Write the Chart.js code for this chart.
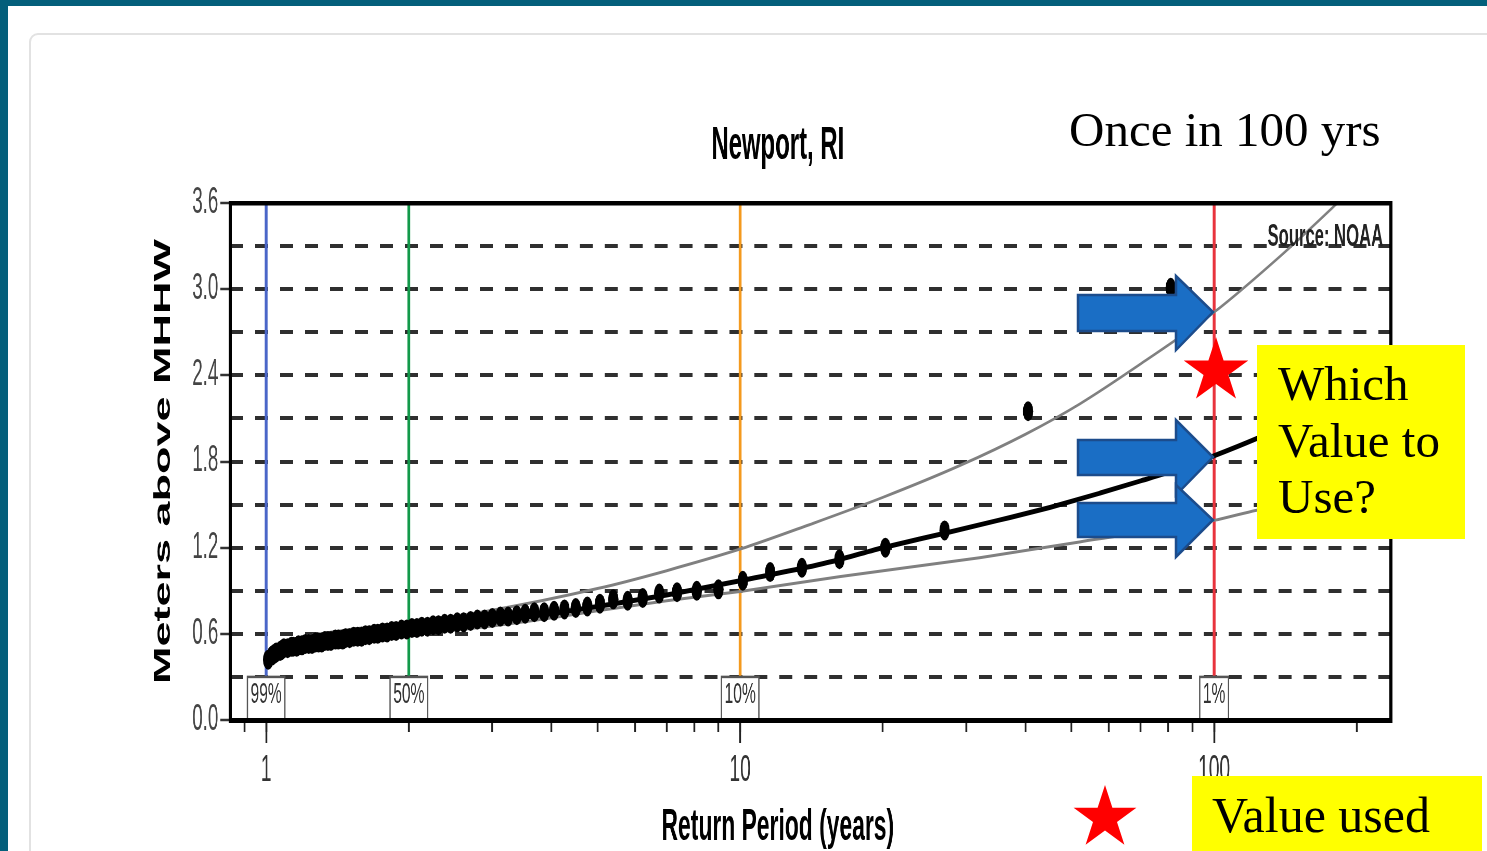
<!DOCTYPE html>
<html>
<head>
<meta charset="utf-8">
<script src="https://cdn.jsdelivr.net/npm/chart.js@4.4.1/dist/chart.umd.min.js"></script>
<style>
html,body{margin:0;padding:0;width:1487px;height:851px;overflow:hidden;background:#fff;}
#tealTop{position:absolute;left:0;top:0;width:1487px;height:6px;background:#045f7b;}
#tealLeft{position:absolute;left:0;top:0;width:8px;height:851px;background:#045f7b;}
#panel{position:absolute;left:29px;top:33px;width:1500px;height:860px;border:2px solid #e2e2e2;border-radius:9px;background:#fff;box-sizing:border-box;}
#chartBox{position:absolute;left:120px;top:95px;width:1300px;height:756px;}
#notes{position:absolute;left:0;top:0;}
</style>
</head>
<body>
<div id="tealTop"></div>
<div id="tealLeft"></div>
<div id="panel"></div>
<div id="chartBox"><canvas id="c" width="2500" height="756" style="width:1300px;height:756px;"></canvas></div>
<svg id="notes" width="1487" height="851" xmlns="http://www.w3.org/2000/svg">
  <text x="1069" y="146" font-family="'Liberation Serif', serif" font-size="49" fill="#000">Once in 100 yrs</text>
  <polygon points="1078,295 1176,295 1176,276 1213,312 1176,350 1176,331 1078,331" fill="#1a6ec5" stroke="#1c4c8c" stroke-width="2.5"/>
  <polygon points="1078,440 1176,440 1176,420 1213,457 1176,495 1176,475 1078,475" fill="#1a6ec5" stroke="#1c4c8c" stroke-width="2.5"/>
  <polygon points="1078,503 1176,503 1176,485 1213,520 1176,557 1176,537 1078,537" fill="#1a6ec5" stroke="#1c4c8c" stroke-width="2.5"/>
  <polygon id="star1" fill="#ff0000"/>
  <rect x="1257" y="345" width="208" height="194" fill="#ffff00"/>
  <text font-family="'Liberation Serif', serif" font-size="49" fill="#000">
    <tspan x="1278" y="400">Which</tspan>
    <tspan x="1278" y="457">Value to</tspan>
    <tspan x="1278" y="513">Use?</tspan>
  </text>
  <rect x="1192" y="776" width="290" height="75" fill="#ffff00"/>
  <text x="1212" y="832" font-family="'Liberation Serif', serif" font-size="50" fill="#000">Value used</text>
  <polygon id="star2" fill="#ff0000"/>
</svg>
<script>
// ---------------- data ----------------
const observedPeriods = [81, 40.5, 27, 20.25, 16.2, 13.5, 11.57, 10.13, 9.0, 8.1,
  7.36, 6.75, 6.23, 5.79, 5.4, 5.06, 4.76, 4.5, 4.26, 4.05,
  3.86, 3.68, 3.52, 3.38, 3.24, 3.12, 3.0, 2.89, 2.79, 2.7,
  2.61, 2.53, 2.45, 2.38, 2.31, 2.25, 2.19, 2.13, 2.08, 2.03,
  1.98, 1.93, 1.88, 1.84, 1.8, 1.76, 1.72, 1.69, 1.65, 1.62,
  1.59, 1.56, 1.53, 1.5, 1.47, 1.45, 1.42, 1.4, 1.37, 1.35,
  1.33, 1.31, 1.29, 1.27, 1.25, 1.23, 1.21, 1.19, 1.17, 1.16,
  1.14, 1.13, 1.11, 1.09, 1.08, 1.07, 1.05, 1.04, 1.03, 1.01];
const observedLevels = [3.01, 2.15, 1.32, 1.20, 1.12, 1.06, 1.03, 0.97, 0.91, 0.90,
  0.89, 0.88, 0.85, 0.83, 0.84, 0.81, 0.79, 0.78, 0.77, 0.76,
  0.75, 0.75, 0.74, 0.73, 0.72, 0.72, 0.71, 0.70, 0.70, 0.69,
  0.68, 0.68, 0.67, 0.67, 0.66, 0.66, 0.65, 0.65, 0.64, 0.64,
  0.63, 0.63, 0.62, 0.62, 0.61, 0.61, 0.60, 0.60, 0.59, 0.59,
  0.58, 0.58, 0.58, 0.57, 0.57, 0.56, 0.56, 0.56, 0.55, 0.55,
  0.55, 0.54, 0.54, 0.54, 0.53, 0.53, 0.53, 0.52, 0.52, 0.51,
  0.51, 0.51, 0.50, 0.50, 0.49, 0.48, 0.47, 0.46, 0.45, 0.42];

const fitPeriods = [1.0, 1.01, 1.03, 1.06, 1.1, 1.2, 1.35, 1.5, 1.75, 2, 2.5, 3, 4, 5, 7, 10, 15, 20, 27, 35, 45, 57.5, 70, 82, 100, 123, 160, 236];
const fitLevels  = [0.40, 0.44, 0.47, 0.495, 0.515, 0.54, 0.565, 0.585, 0.605, 0.625, 0.66, 0.69, 0.74, 0.79, 0.87, 0.97, 1.09, 1.20, 1.30, 1.39, 1.48, 1.58, 1.665, 1.735, 1.84, 1.96, 2.13, 2.38];

const upperPeriods = [1.0, 1.01, 1.03, 1.1, 1.2, 1.5, 2, 3, 5, 7, 10, 14, 20, 29, 40, 52, 70, 100, 140, 178, 210];
const upperLevels  = [0.40, 0.46, 0.50, 0.55, 0.58, 0.63, 0.68, 0.765, 0.915, 1.04, 1.19, 1.36, 1.55, 1.77, 1.99, 2.20, 2.48, 2.84, 3.25, 3.57, 3.80];

const lowerPeriods = [1.0, 1.01, 1.05, 1.1, 1.2, 1.5, 2, 3, 3.6, 5, 7, 10, 16.3, 32, 52, 100, 123, 236];
const lowerLevels  = [0.40, 0.43, 0.46, 0.48, 0.51, 0.55, 0.59, 0.655, 0.69, 0.76, 0.83, 0.895, 1.00, 1.13, 1.24, 1.39, 1.46, 1.63];

const markerPeriods = [1, 2, 10, 100];
const markerLabels  = ['99%', '50%', '10%', '1%'];
const markerBottom = 0.3;
const markerTop = 3.6;

const xTickValues = [0.9, 1, 2, 3, 4, 5, 6, 7, 8, 9, 10, 20, 30, 40, 50, 60, 70, 80, 90, 100, 200];
const xLabelValues = [1, 10, 100];
const xMin = 0.84, xMax = 236;
const yMin = 0, yMax = 3.6, yStep = 0.3, yLabelStep = 0.6;

const chartTitle = 'Newport, RI';
const xTitle = 'Return Period (years)';
const yTitle = 'Meters above MHHW';
const sourceNote = 'Source: NOAA';

// ---------------- styles ----------------
const markerColors = ['#4a66c8', '#12994a', '#f49a1e', '#e8333d'];
const FONT = '"Liberation Sans", Arial, sans-serif';

function starPoints(cx, cy, R) {
  const r = R * 0.382, pts = [];
  for (let k = 0; k < 10; k++) {
    const a = -Math.PI / 2 + k * Math.PI / 5;
    const rad = k % 2 ? r : R;
    pts.push((cx + rad * Math.cos(a)).toFixed(1) + ',' + (cy + rad * Math.sin(a)).toFixed(1));
  }
  return pts.join(' ');
}
document.getElementById('star1').setAttribute('points', starPoints(1216, 371, 34));
document.getElementById('star2').setAttribute('points', starPoints(1105, 818, 33));

const pair = (xs, ys) => xs.map((x, i) => ({x: x, y: ys[i]}));
const isLabelTick = v => Math.abs(Math.round(v / yLabelStep) * yLabelStep - v) < 1e-6;

const decorPlugin = {
  id: 'decor',
  afterDatasetsDraw(chart) {
    const ctx = chart.ctx, xs = chart.scales.x, ys = chart.scales.y;
    const area = chart.chartArea;
    ctx.save();
    ctx.font = '30px ' + FONT;
    ctx.textAlign = 'center';
    ctx.textBaseline = 'middle';
    markerPeriods.forEach((p, i) => {
      const cx = xs.getPixelForValue(p);
      const yTop = ys.getPixelForValue(markerBottom);
      const yBot = area.bottom;
      const w = ctx.measureText(markerLabels[i]).width + 12;
      ctx.fillStyle = '#fff';
      ctx.fillRect(cx - w / 2, yTop, w, yBot - yTop);
      ctx.strokeStyle = '#555';
      ctx.lineWidth = 2.5;
      ctx.strokeRect(cx - w / 2, yTop, w, yBot - yTop);
      ctx.fillStyle = '#333';
      ctx.fillText(markerLabels[i], cx, (yTop + yBot) / 2 - 4);
    });
    ctx.font = 'bold 32px ' + FONT;
    ctx.textAlign = 'right';
    ctx.textBaseline = 'alphabetic';
    ctx.fillStyle = '#222';
    ctx.fillText(sourceNote, area.right - 15, area.top + 43);
    ctx.restore();
  },
  afterDraw(chart) {
    const ctx = chart.ctx, a = chart.chartArea;
    ctx.save();
    ctx.fillStyle = '#000';
    ctx.fillRect(a.left - 3, a.top - 2, a.right - a.left + 6, 4.5);
    ctx.fillRect(a.left - 3, a.bottom - 2, a.right - a.left + 6, 5);
    ctx.fillRect(a.left - 3, a.top - 2, 6, a.bottom - a.top + 4);
    ctx.fillRect(a.right - 3, a.top - 2, 6, a.bottom - a.top + 4);
    ctx.textAlign = 'center';
    ctx.textBaseline = 'alphabetic';
    ctx.font = 'bold 46px ' + FONT;
    ctx.fillText(chartTitle, 1265, 64);
    ctx.font = 'bold 44px ' + FONT;
    ctx.fillText(xTitle, 1265, 745);
    ctx.restore();
  }
};

const datasets = [
  {label: 'Observed annual maxima', data: pair(observedPeriods, observedLevels), showLine: false,
   pointRadius: 10, pointBackgroundColor: '#000', pointBorderWidth: 0, xAxisID: 'x', yAxisID: 'y'},
  {label: 'Fit', data: pair(fitPeriods, fitLevels), showLine: true, pointRadius: 0,
   borderColor: '#000', borderWidth: 5, cubicInterpolationMode: 'monotone', xAxisID: 'x', yAxisID: 'y'},
  {label: 'Upper 95%', data: pair(upperPeriods, upperLevels), showLine: true, pointRadius: 0,
   borderColor: '#808080', borderWidth: 3, cubicInterpolationMode: 'monotone', xAxisID: 'x', yAxisID: 'y'},
  {label: 'Lower 95%', data: pair(lowerPeriods, lowerLevels), showLine: true, pointRadius: 0,
   borderColor: '#808080', borderWidth: 3, cubicInterpolationMode: 'monotone', xAxisID: 'x', yAxisID: 'y'}
].concat(markerPeriods.map((p, i) => ({
  label: markerLabels[i], data: [{x: p, y: markerBottom}, {x: p, y: markerTop}], showLine: true,
  pointRadius: 0, borderColor: markerColors[i], borderWidth: 5.5, xAxisID: 'x', yAxisID: 'y'
})));

const setTicks = s => { s.ticks = xTickValues.map(v => ({value: v})); };

new Chart(document.getElementById('c'), {
  type: 'scatter',
  data: {datasets: datasets},
  options: {
    responsive: false,
    devicePixelRatio: 1,
    animation: false,
    layout: {padding: {left: 0, right: 56, top: 108, bottom: 0}},
    plugins: {legend: {display: false}, tooltip: {enabled: false}, title: {display: false}},
    scales: {
      x: {
        type: 'logarithmic', position: 'bottom', weight: 1, min: xMin, max: xMax,
        afterBuildTicks: setTicks,
        afterFit: s => { s.height = 131; },
        grid: {display: true, drawOnChartArea: false, drawTicks: true, tickLength: 23, tickWidth: 3.5,
               tickColor: c => (c.tick && xLabelValues.includes(c.tick.value)) ? '#222' : 'rgba(0,0,0,0)'},
        border: {display: false},
        ticks: {autoSkip: false, maxRotation: 0, minRotation: 0, padding: 6, color: '#333',
                font: {family: FONT, size: 37},
                callback: v => xLabelValues.includes(v) ? String(v) : ''}
      },
      xm: {
        type: 'logarithmic', position: 'bottom', weight: 0, min: xMin, max: xMax,
        afterBuildTicks: setTicks,
        afterFit: s => { s.height = 0; },
        grid: {display: true, drawOnChartArea: false, drawTicks: true, tickLength: 12, tickWidth: 3.5, tickColor: '#222'},
        border: {display: false},
        ticks: {display: false}
      },
      y: {
        type: 'linear', position: 'left', min: yMin, max: yMax,
        afterFit: s => { s.width = 212; },
        grid: {color: c => (c.tick && (c.tick.value <= yMin + 1e-6 || c.tick.value >= yMax - 1e-6)) ? 'rgba(0,0,0,0)' : '#2f2f2f',
               lineWidth: 4, tickLength: 19, tickWidth: 2.5, tickBorderDash: [],
               tickColor: c => (c.tick && isLabelTick(c.tick.value)) ? '#333' : 'rgba(0,0,0,0)'},
        border: {display: false, dash: [25, 23]},
        ticks: {stepSize: yStep, autoSkip: false, padding: 4, color: '#444', font: {family: FONT, size: 36},
                callback: v => isLabelTick(v) ? v.toFixed(1) : ''},
        title: {display: true, text: yTitle, color: '#000', font: {family: FONT, size: 45, weight: 'bold'},
                padding: {top: 57, bottom: 0}}
      }
    }
  },
  plugins: [decorPlugin]
});
</script>
</body>
</html>
